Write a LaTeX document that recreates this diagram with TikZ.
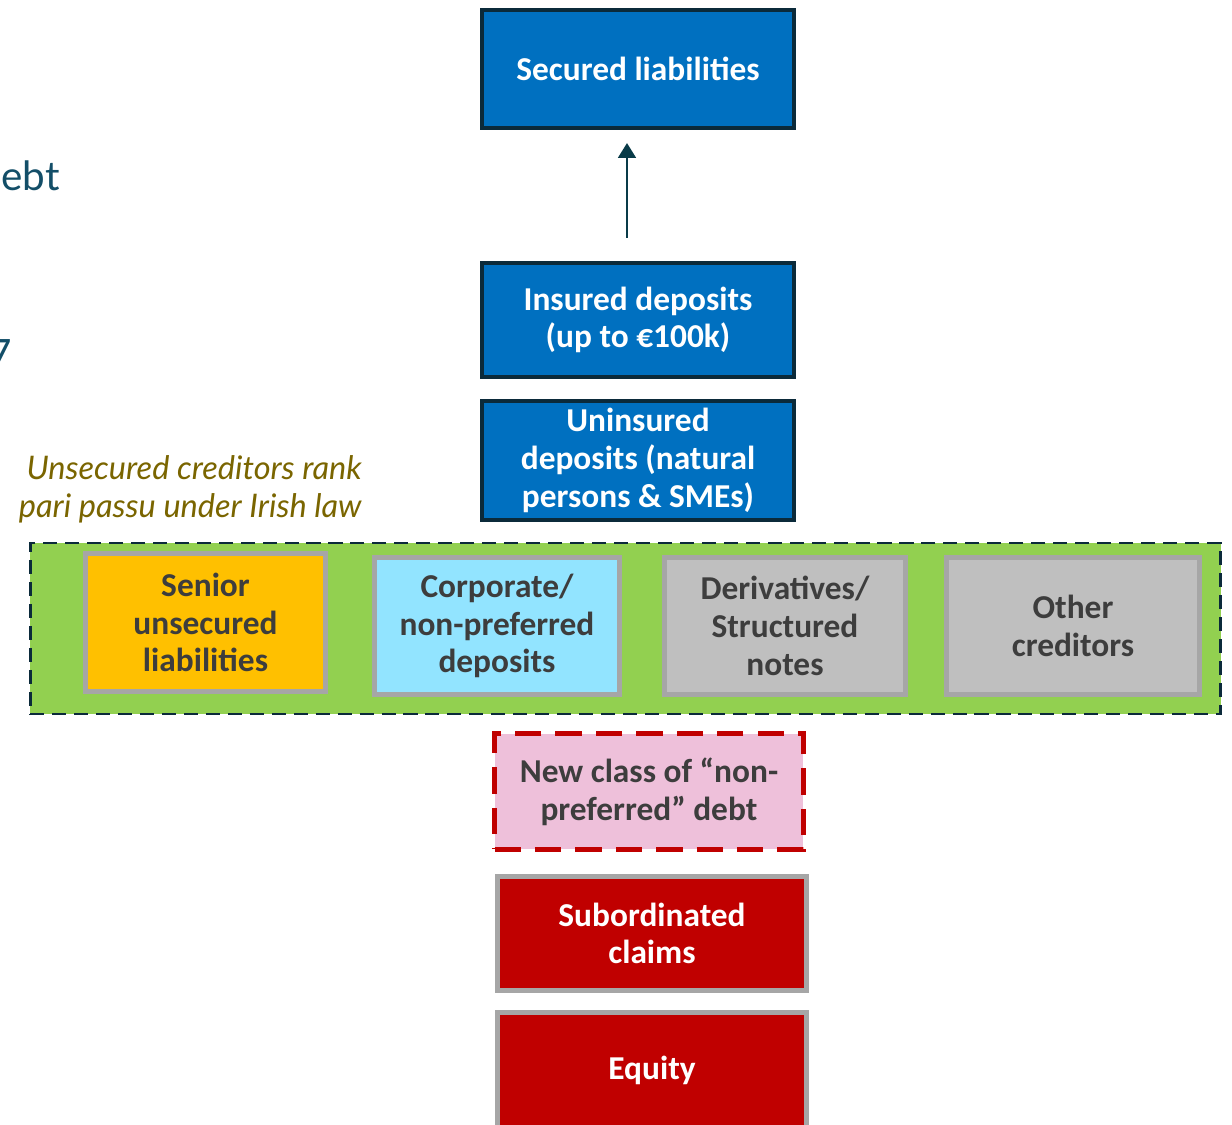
\documentclass[tikz,border=0pt]{standalone}
\usepackage{fontspec}
\setmainfont{Carlito}
\newfontfamily\latofont{Lato}
\usepackage{xcolor}
\usetikzlibrary{arrows.meta}
\definecolor{boxblue}{HTML}{0070C0}
\definecolor{darkline}{HTML}{0B2A3A}
\definecolor{boxgrey}{HTML}{A6A6A6}
\definecolor{bandgreen}{HTML}{92D050}
\definecolor{seniorgold}{HTML}{FFC000}
\definecolor{corpcyan}{HTML}{92E4FF}
\definecolor{lightgrey}{HTML}{BFBFBF}
\definecolor{newpink}{HTML}{EEC0DA}
\definecolor{darkred}{HTML}{C00000}
\definecolor{textgrey}{HTML}{3D3D3D}
\definecolor{olivetext}{HTML}{7A6500}
\definecolor{tealtext}{HTML}{134E68}

\begin{document}
\begin{tikzpicture}[x=0.02cm,y=-0.02cm,
    every node/.style={inner sep=0pt,align=center,font=\fontsize{19}{21.5}\selectfont\bfseries},
    bluebox/.style={rectangle,draw=darkline,line width=2.6pt,fill=boxblue,text=white},
    greybox/.style={rectangle,draw=boxgrey,line width=2.8pt,text=textgrey},
    redbox/.style={rectangle,draw=boxgrey,line width=2.8pt,fill=darkred,text=white}]
    \useasboundingbox (0,0) rectangle (1232,1125);
    % \draw[style=help lines,step=100] (0,0) grid (1232,1125);
    \node (tail1) at (60,176) [anchor=east,text=tealtext,font=\latofont\fontsize{23}{26}\selectfont] {ebt};
    \node (tail2) at (12,354) [anchor=east,text=tealtext,font=\latofont\fontsize{23}{26}\selectfont] {7};
    \node[bluebox,minimum width=6.24cm,minimum height=2.36cm] (sec) at (638,69) {Secured liabilities};
    \coordinate (arrtail) at (627,238);
    \coordinate (arrhead) at (627,143);
    \draw[darkline!80!teal,line width=1.7pt,-{Triangle[width=10pt,length=8.5pt]}] (arrtail) -- (arrhead);
    \node[bluebox,minimum width=6.24cm,minimum height=2.28cm] (ins) at (638,320) {Insured deposits\\(up to €100k)};
    \node[bluebox,minimum width=6.24cm,minimum height=2.38cm] (unins) at (638,460.5) {Uninsured\\deposits (natural\\persons \& SMEs)};
    \node (rank) at (362,489) [anchor=east,align=right,text=olivetext,font=\latofont\itshape\fontsize{18.5}{21.5}\selectfont] {Unsecured creditors rank\\pari passu under Irish law};
    \node[rectangle,draw=darkline,fill=bandgreen,line width=1.6pt,dash pattern=on 8pt off 4.5pt,minimum width=23.82cm,minimum height=3.42cm] (band) at (625.5,628.5) {};
    \node[greybox,fill=seniorgold,minimum width=4.8cm,minimum height=2.76cm] (sen) at (205.5,622.5) {Senior\\unsecured\\liabilities};
    \node[greybox,fill=corpcyan,minimum width=4.9cm,minimum height=2.74cm] (corp) at (497,626) {Corporate/\\non-preferred\\deposits};
    \node[greybox,fill=lightgrey,minimum width=4.82cm,minimum height=2.74cm] (deriv) at (785,626) {Derivatives/\\Structured\\notes};
    \node[greybox,fill=lightgrey,minimum width=5.06cm,minimum height=2.74cm] (other) at (1073,626) {Other\\creditors};
    \node[rectangle,draw=darkred,fill=newpink,text=textgrey,line width=2.8pt,dash pattern=on 15pt off 8pt,minimum width=6.18cm,minimum height=2.32cm] (newcl) at (649,791.5) {New class of “non-\\preferred” debt};
    \node[redbox,minimum width=6.18cm,minimum height=2.28cm] (sub) at (652,933.5) {Subordinated\\claims};
    \node[redbox,minimum width=6.18cm,minimum height=2.3cm] (eq) at (652,1070) {Equity};
\end{tikzpicture}
\end{document}
